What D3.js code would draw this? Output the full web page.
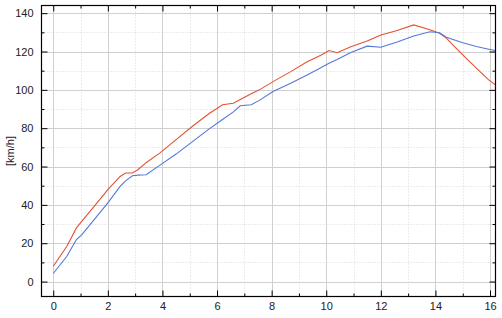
<!DOCTYPE html>
<html>
<head>
<meta charset="utf-8">
<script src="https://cdn.jsdelivr.net/npm/d3@7"></script>
<style>
  body { margin: 0; background: #fff; }
  svg { display: block; font-family: "Liberation Sans", Arial, sans-serif; }
</style>
</head>
<body>
<svg id="chart"></svg>
<script>
// time axis (s) and the two speed curves [km/h]
var time = [0, 0.5, 0.85, 1.05, 1.5, 2.0, 2.45, 2.65, 2.9, 3.1, 3.4, 3.9, 4.5, 5.1, 5.7, 6.2, 6.6, 6.85, 7.25, 7.55, 8.05, 8.7, 9.3, 9.8, 10.1, 10.4, 10.9, 11.5, 12.0, 12.6, 13.2, 13.8, 14.15, 14.4, 14.7, 15.0, 15.5, 15.95, 16.2];
var speedRed = [8, 18.4, 28, 31.5, 39.2, 48, 54.8, 56.6, 56.6, 58.3, 62, 67, 74, 81, 87.5, 92.2, 93, 95, 98, 100, 104.3, 109.5, 114.7, 118, 120.5, 119.4, 122.5, 125.5, 128.6, 131, 133.9, 131.3, 129.5, 127, 122.5, 118.2, 111.3, 105.2, 102.6];
var speedBlue = [4.2, 13.2, 21.9, 24.5, 32.3, 41, 49.6, 52.5, 55.2, 55.5, 55.7, 60.6, 66.5, 73, 79.5, 84.5, 88.5, 91.7, 92.2, 94.5, 99.1, 103.5, 107.8, 111.5, 113.9, 115.8, 119.5, 122.8, 122.2, 125, 128.1, 130.3, 129.8, 127.4, 126, 124.6, 122.6, 121.2, 120.5];

var xMajor = [0, 2, 4, 6, 8, 10, 12, 14, 16];
var xMinor = [1, 3, 5, 7, 9, 11, 13, 15];
var yMajor = [0, 20, 40, 60, 80, 100, 120, 140];
var yMinor = [10, 30, 50, 70, 90, 110, 130];
var yLabel = "[km/h]";

var width = 502, height = 318;
var mLeft = 41.5, mTop = 5.5, mRight = 495.5, mBottom = 296.5;

var svg = d3.select('#chart')
    .attr('width', width)
    .attr('height', height);

var x = d3.scaleLinear().domain([-0.43, 16.2]).range([mLeft, mRight]);
var y = d3.scaleLinear().domain([-7.8, 144]).range([mBottom, mTop]);

// grid: dotted minor first, then solid major
var grid = svg.append('g');
grid.selectAll('.vminor').data(xMinor).enter().append('line')
    .attr('x1', d => Math.round(x(d)) + 0.5).attr('x2', d => Math.round(x(d)) + 0.5)
    .attr('y1', mTop).attr('y2', mBottom)
    .attr('stroke', '#d8d8d8').attr('stroke-dasharray', '1,2');
grid.selectAll('.hminor').data(yMinor).enter().append('line')
    .attr('y1', d => Math.round(y(d)) + 0.5).attr('y2', d => Math.round(y(d)) + 0.5)
    .attr('x1', mLeft).attr('x2', mRight)
    .attr('stroke', '#d8d8d8').attr('stroke-dasharray', '1,2');
grid.selectAll('.vmajor').data(xMajor).enter().append('line')
    .attr('x1', d => Math.round(x(d)) + 0.5).attr('x2', d => Math.round(x(d)) + 0.5)
    .attr('y1', mTop).attr('y2', mBottom)
    .attr('stroke', '#d0d0d0');
grid.selectAll('.hmajor').data(yMajor).enter().append('line')
    .attr('y1', d => Math.round(y(d)) + 0.5).attr('y2', d => Math.round(y(d)) + 0.5)
    .attr('x1', mLeft).attr('x2', mRight)
    .attr('stroke', '#d0d0d0');

// curves
var line = d3.line()
    .x(function(d, i) { return x(time[i]); })
    .y(function(d) { return y(d); });

svg.append('path').datum(speedRed)
    .attr('d', line)
    .attr('fill', 'none')
    .attr('stroke', '#e4522f')
    .attr('stroke-width', 1.1);

svg.append('path').datum(speedBlue)
    .attr('d', line)
    .attr('fill', 'none')
    .attr('stroke', '#5578d8')
    .attr('stroke-width', 1.1);

// axes with inward ticks
function styleAxis(g) {
    g.select('.domain').remove();
    g.selectAll('line').attr('stroke', '#000');
    g.selectAll('text').attr('fill', '#222').attr('font-size', '11px');
}

svg.append('g').attr('transform', 'translate(0,' + mBottom + ')')
    .call(d3.axisBottom(x).tickValues(xMajor).tickSizeInner(-6).tickSizeOuter(0).tickPadding(6).tickFormat(d3.format('d')))
    .call(styleAxis);
svg.append('g').attr('transform', 'translate(0,' + mBottom + ')')
    .call(d3.axisBottom(x).tickValues(xMinor).tickSizeInner(-3).tickSizeOuter(0).tickFormat(''))
    .call(styleAxis);
svg.append('g').attr('transform', 'translate(0,' + mTop + ')')
    .call(d3.axisTop(x).tickValues(xMajor).tickSizeInner(-6).tickSizeOuter(0).tickFormat(''))
    .call(styleAxis);
svg.append('g').attr('transform', 'translate(0,' + mTop + ')')
    .call(d3.axisTop(x).tickValues(xMinor).tickSizeInner(-3).tickSizeOuter(0).tickFormat(''))
    .call(styleAxis);

svg.append('g').attr('transform', 'translate(' + mLeft + ',0)')
    .call(d3.axisLeft(y).tickValues(yMajor).tickSizeInner(-6).tickSizeOuter(0).tickPadding(8).tickFormat(d3.format('d')))
    .call(styleAxis);
svg.append('g').attr('transform', 'translate(' + mLeft + ',0)')
    .call(d3.axisLeft(y).tickValues(yMinor).tickSizeInner(-3).tickSizeOuter(0).tickFormat(''))
    .call(styleAxis);
svg.append('g').attr('transform', 'translate(' + mRight + ',0)')
    .call(d3.axisRight(y).tickValues(yMajor).tickSizeInner(-6).tickSizeOuter(0).tickFormat(''))
    .call(styleAxis);
svg.append('g').attr('transform', 'translate(' + mRight + ',0)')
    .call(d3.axisRight(y).tickValues(yMinor).tickSizeInner(-3).tickSizeOuter(0).tickFormat(''))
    .call(styleAxis);

// frame
svg.append('rect')
    .attr('x', mLeft).attr('y', mTop)
    .attr('width', mRight - mLeft).attr('height', mBottom - mTop)
    .attr('fill', 'none').attr('stroke', '#000').attr('stroke-width', 1.2);

// y axis title
svg.append('text')
    .attr('transform', 'translate(14,' + ((mTop + mBottom) / 2) + ') rotate(-90)')
    .attr('text-anchor', 'middle')
    .attr('font-size', '11px')
    .attr('fill', '#222')
    .text(yLabel);
</script>
</body>
</html>
